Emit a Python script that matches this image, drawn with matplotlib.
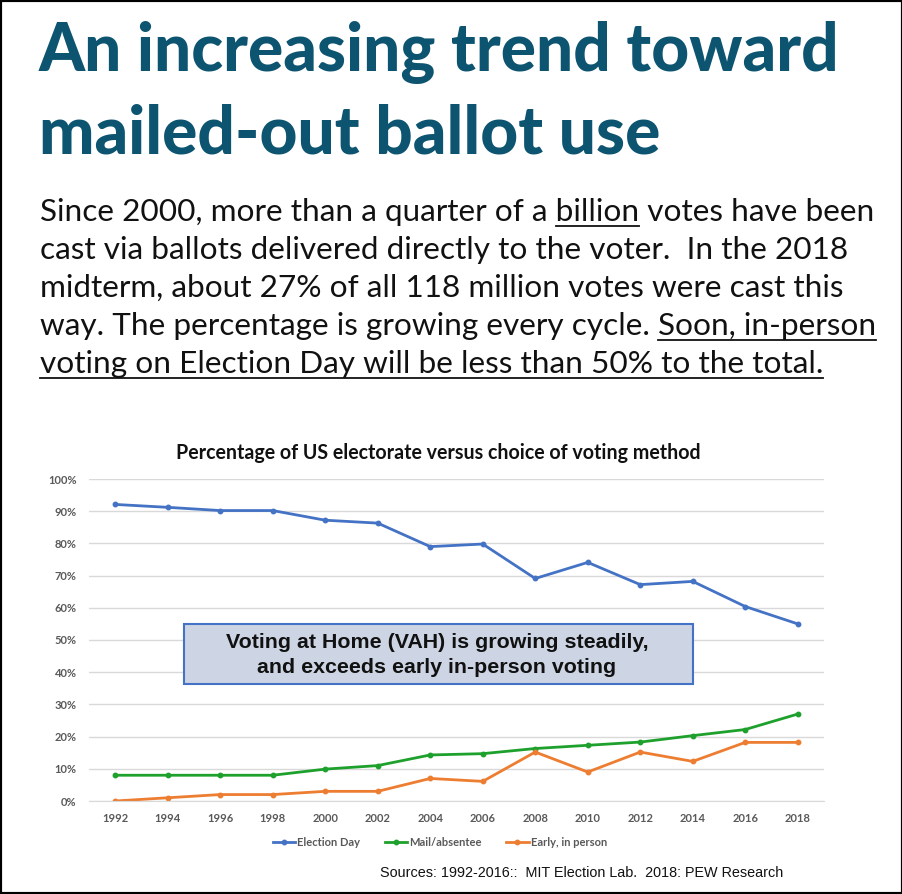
import numpy as np
import matplotlib.pyplot as plt
from matplotlib.lines import Line2D
from matplotlib.patches import Rectangle

# ---------------- data ----------------
years = [1992, 1994, 1996, 1998, 2000, 2002, 2004, 2006, 2008, 2010, 2012, 2014, 2016, 2018]
election_day = [92.1, 91.2, 90.2, 90.2, 87.2, 86.3, 79.0, 79.8, 69.1, 74.1, 67.2, 68.2, 60.4, 55.0]
mail_absentee = [8.0, 8.0, 8.0, 8.0, 9.9, 11.0, 14.3, 14.7, 16.3, 17.3, 18.3, 20.3, 22.2, 27.0]
early_in_person = [0.0, 1.0, 2.0, 2.0, 3.0, 3.0, 7.0, 6.1, 15.2, 9.0, 15.2, 12.3, 18.2, 18.2]
series_names = ["Election Day", "Mail/absentee", "Early, in person"]
series_colors = ["#4472c4", "#1ea12c", "#ed7d31"]
y_ticks = list(range(0, 101, 10))

title_lines = ["An increasing trend toward", "mailed-out ballot use"]
body_lines = [
    [("Since 2000, more than a quarter of a ", False), ("billion", True), (" votes have been", False)],
    [("cast via ballots delivered directly to the voter.  In the 2018", False)],
    [("midterm, about 27% of all 118 million votes were cast this", False)],
    [("way. The percentage is growing every cycle. ", False), ("Soon, in-person", True)],
    [("voting on Election Day will be less than 50% to the total.", True)],
]
chart_title = "Percentage of US electorate versus choice of voting method"
box_text = "Voting at Home (VAH) is growing steadily,\nand exceeds early in-person voting"
source_text = "Sources: 1992-2016::  MIT Election Lab.  2018: PEW Research"

W, H = 903, 894
def fx(x):
    return x / W
def fy(y):
    return 1 - y / H

fig = plt.figure(figsize=(W / 100, H / 100), dpi=100)
renderer = fig.canvas.get_renderer()

def text_width(s, **kw):
    t = fig.text(0, 0, s, **kw)
    w = t.get_window_extent(renderer).width
    t.remove()
    return w

def fit_size(s, target, size0, **kw):
    w = text_width(s, fontsize=size0, **kw)
    return size0 * target / w

# ---------------- headline ----------------
title_kw = dict(family="Lato", fontweight="black", color="#0d5470")
tsize = fit_size(title_lines[0], 800, 40, **title_kw)
fig.text(fx(39), fy(71), title_lines[0], fontsize=tsize, va="baseline", **title_kw)
fig.text(fx(39), fy(153), title_lines[1], fontsize=tsize, va="baseline", **title_kw)

# ---------------- paragraph with underlines ----------------
body_kw = dict(family="Lato", color="#111111")
full0 = "".join(p for p, _ in body_lines[0])
bsize = fit_size(full0, 831, 17, **body_kw)
baselines = [221, 259, 297, 335, 373]
x0 = 40
for parts, yb in zip(body_lines, baselines):
    full = "".join(p for p, _ in parts)
    fig.text(fx(x0), fy(yb), full, fontsize=bsize, va="baseline", **body_kw)
    prefix = ""
    for seg, under in parts:
        if under:
            seg_s = seg.strip()
            lead = seg[:len(seg) - len(seg.lstrip())]
            w_end = text_width(prefix + lead + seg_s, fontsize=bsize, **body_kw)
            w_seg = text_width(seg_s, fontsize=bsize, **body_kw)
            xa, xb = x0 + w_end - w_seg, x0 + w_end
            fig.add_artist(Line2D([fx(xa), fx(xb)], [fy(yb + 5), fy(yb + 5)],
                                  transform=fig.transFigure, color="#111111", lw=1.3))
        prefix += seg

# ---------------- chart ----------------
ax = fig.add_axes([fx(89), fy(801), (824 - 89) / W, (801 - 479) / H])
for vals, name, col in zip([election_day, mail_absentee, early_in_person], series_names, series_colors):
    ax.plot(years, vals, color=col, lw=2.0, marker="o", ms=3.2, label=name)

ax.set_xlim(1991, 2019)
ax.set_ylim(0, 100)
ax.set_xticks(years)
ax.set_yticks(y_ticks)
ax.set_yticklabels([f"{v}%" for v in y_ticks])
ax.yaxis.grid(True, color="#d9d9d9", lw=1)
ax.set_axisbelow(True)
for s in ["top", "right", "left"]:
    ax.spines[s].set_visible(False)
ax.spines["bottom"].set_color("#d9d9d9")
ax.tick_params(length=0, labelsize=8, labelcolor="#595959")
ax.tick_params(axis="y", pad=9)
ax.tick_params(axis="x", pad=9)
for lab in ax.get_xticklabels() + ax.get_yticklabels():
    lab.set_fontweight("bold")
    lab.set_family("Lato")

csize = fit_size(chart_title, 521, 12, family="Lato", fontweight="bold")
fig.text(fx(438), fy(453), chart_title, fontsize=csize, fontweight="bold", family="Lato",
         ha="center", va="center", color="#111111")

# annotation box
fig.add_artist(Rectangle((fx(184), fy(684)), (693 - 184) / W, (684 - 624) / H,
                         transform=fig.transFigure, facecolor="#cdd5e4",
                         edgecolor="#4472c4", lw=1.5))
asize = fit_size(box_text.split("\n")[0], 423, 14, family="Liberation Sans", fontweight="bold")
fig.text(fx(437), fy(655), box_text, fontsize=asize, fontweight="bold", family="Liberation Sans",
         ha="center", va="center", multialignment="center", linespacing=1.35, color="#111111")

# legend
leg = ax.legend(loc="center", bbox_to_anchor=(fx(440), fy(842)), bbox_transform=fig.transFigure,
                ncol=3, frameon=False, handlelength=2.0, handletextpad=0.2, columnspacing=2.2,
                prop={"family": "Lato", "weight": "bold", "size": 8})
for t in leg.get_texts():
    t.set_color("#595959")

# source line
src_kw = dict(family=["Liberation Sans Narrow", "Liberation Sans"])
ssize = fit_size(source_text, 405, 10, **src_kw)
fig.text(fx(380), fy(873), source_text, fontsize=ssize, ha="left", va="center", color="#111111", **src_kw)

# outer frame
fig.add_artist(Rectangle((0, 0), 1, 1, transform=fig.transFigure, fill=False, ec="black", lw=3))

fig.savefig("out.png", dpi=100)
